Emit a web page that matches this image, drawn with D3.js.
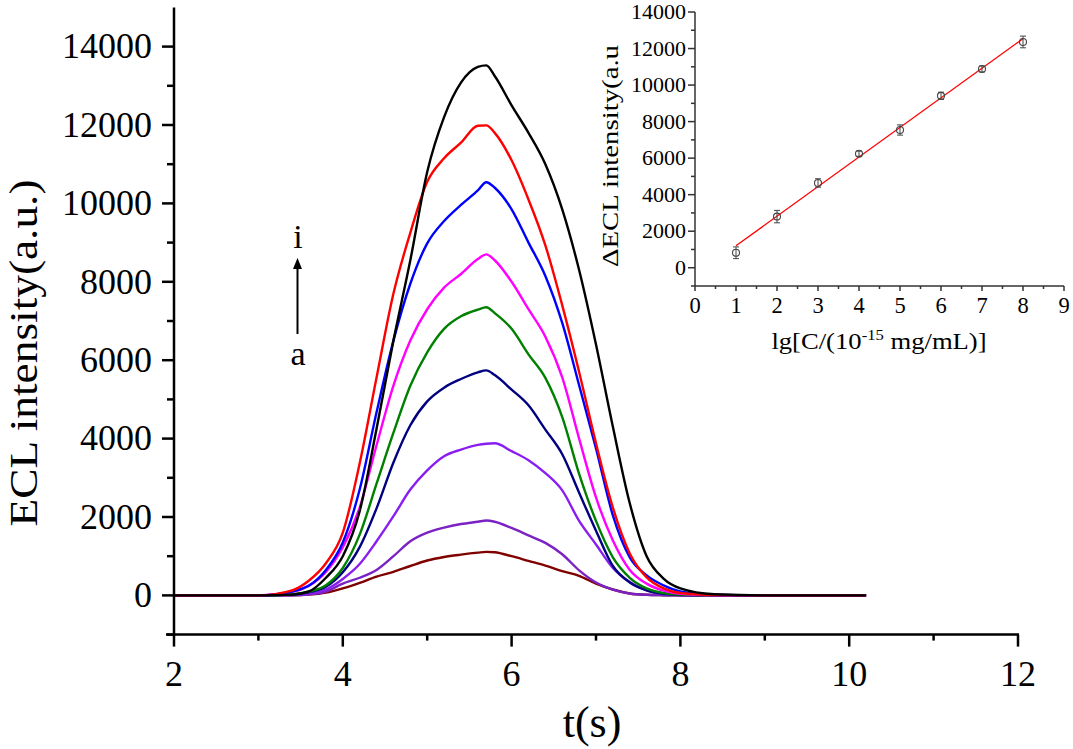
<!DOCTYPE html>
<html><head><meta charset="utf-8">
<script src="https://cdn.jsdelivr.net/npm/d3@7"></script>
<style>
html,body{margin:0;padding:0;background:#fff;}
svg{display:block;font-family:"Liberation Serif","Times New Roman",serif;}
</style></head>
<body><svg id="chart" width="1073" height="749"></svg>
<script>
// ---- main chart data ----
const tValues = [2, 3, 3.4, 3.6, 3.8, 4.0, 4.2, 4.4, 4.6, 4.8, 5.0, 5.2, 5.4, 5.6, 5.7, 5.8, 6.0, 6.2, 6.4, 6.6, 6.8, 7.0, 7.2, 7.4, 7.6, 7.8, 8.0, 8.4, 9.0, 10.2];
const seriesNames = ["a","b","c","d","e","f","g","h","i"];
const seriesColors = ["#800000","#7B22C4","#8A1EF2","#000080","#008000","#FF00FF","#0000FF","#FF0000","#000000"];
const curveA = [0,0,5,20,70,180,320,480,600,750,890,980,1040,1090,1110,1100,1000,880,760,620,500,300,150,50,15,5,0,0,0,0];
const curveB = [0,0,5,30,100,300,450,650,1000,1380,1600,1730,1820,1880,1910,1880,1720,1530,1340,1050,640,330,150,50,15,5,0,0,0,0];
const curveC = [0,0,10,40,150,420,800,1380,2020,2700,3190,3550,3720,3840,3870,3880,3680,3450,3120,2680,1900,1300,700,340,130,40,10,0,0,0];
const curveD = [0,0,20,80,220,590,1230,2220,3390,4340,4950,5300,5520,5690,5740,5620,5250,4850,4230,3600,2620,1650,750,330,130,40,10,0,0,0];
const curveE = [0,0,30,100,260,700,1550,2850,4150,5350,6200,6800,7120,7290,7350,7200,6800,6150,5550,4550,3100,1900,970,450,180,60,20,0,0,0];
const curveF = [0,0,90,250,600,1230,2240,3830,5350,6500,7300,7850,8200,8580,8700,8550,8000,7300,6600,5560,4000,2500,1400,650,300,120,40,5,0,0];
const curveG = [0,0,100,250,650,1350,2700,4670,6500,7950,8980,9550,9960,10330,10540,10400,9850,9000,8150,6950,5360,3750,2040,970,510,255,100,10,0,0];
const curveH = [0,0,130,380,820,1600,3370,5560,7700,9250,10550,11150,11550,11980,11990,11800,11100,10100,8930,7400,5700,3880,2240,1070,460,180,60,10,0,0];
const curveI = [0,0,20,100,450,1000,2150,4250,6500,8550,10800,12200,13080,13480,13520,13250,12500,11800,11000,9850,8300,6400,4300,2350,1000,430,180,30,0,0];
const allCurves = [curveA,curveB,curveC,curveD,curveE,curveF,curveG,curveH,curveI];
const mainXTicks = [2,4,6,8,10,12];
const mainXMinor = [3,5,7,9,11];
const mainYTicks = [0,2000,4000,6000,8000,10000,12000,14000];
const mainYMinor = [-1000,1000,3000,5000,7000,9000,11000,13000];

// ---- inset data ----
const insetX = [1,2,3,4,5,6,7,8];
const insetY = [820,2800,4640,6240,7540,9410,10880,12360];
const insetErr = [320,340,230,140,280,200,160,320];
const fitX = [1,8];
const fitY = [1200,12540];
const insetXTicks = [0,1,2,3,4,5,6,7,8,9];
const insetXMinor = [0.5,1.5,2.5,3.5,4.5,5.5,6.5,7.5,8.5];
const insetYTicks = [0,2000,4000,6000,8000,10000,12000,14000];
const insetYMinor = [-1000,1000,3000,5000,7000,9000,11000,13000];

const svg = d3.select("#chart");

// ===== main chart =====
const x = d3.scaleLinear().domain([2,12]).range([174,1018]);
const y = d3.scaleLinear().domain([-1000,15000]).range([634.6,7.4]);
const mainAxisW = 2.5;

const line = d3.line().x(d=>x(d[0])).y(d=>y(d[1])).curve(d3.curveMonotoneX);
const gCurves = svg.append("g");
allCurves.forEach((vals,k)=>{
  gCurves.append("path")
    .attr("d", line(tValues.map((t,j)=>[t, vals[j]])))
    .attr("fill","none").attr("stroke",seriesColors[k])
    .attr("stroke-width",2.4).attr("stroke-linejoin","round");
});

// axes
const gAx = svg.append("g").attr("stroke","#000").attr("stroke-width",mainAxisW);
gAx.append("line").attr("x1",x(2)).attr("x2",x(2)).attr("y1",y(15000)).attr("y2",y(-1000)+1);
gAx.append("line").attr("x1",x(2)-8).attr("x2",x(12)+1).attr("y1",y(-1000)).attr("y2",y(-1000));
mainYTicks.forEach(v=>gAx.append("line").attr("x1",x(2)-12).attr("x2",x(2)).attr("y1",y(v)).attr("y2",y(v)));
mainYMinor.forEach(v=>gAx.append("line").attr("x1",x(2)-7).attr("x2",x(2)).attr("y1",y(v)).attr("y2",y(v)));
mainXTicks.forEach(v=>gAx.append("line").attr("x1",x(v)).attr("x2",x(v)).attr("y1",y(-1000)).attr("y2",y(-1000)+12));
mainXMinor.forEach(v=>gAx.append("line").attr("x1",x(v)).attr("x2",x(v)).attr("y1",y(-1000)).attr("y2",y(-1000)+6));

const gLab = svg.append("g").attr("fill","#000");
mainYTicks.forEach(v=>gLab.append("text").attr("x",152).attr("y",y(v)).attr("dy","0.33em")
  .attr("text-anchor","end").attr("font-size",36).text(v));
mainXTicks.forEach(v=>gLab.append("text").attr("x",x(v)).attr("y",686)
  .attr("text-anchor","middle").attr("font-size",36).text(v));
gLab.append("text").attr("x",592).attr("y",737).attr("text-anchor","middle").attr("font-size",44).text("t(s)");
gLab.append("text").attr("transform","translate(37,353) rotate(-90)").attr("text-anchor","middle")
  .attr("font-size",41).attr("textLength",347).attr("lengthAdjust","spacingAndGlyphs").text("ECL intensity(a.u.)");

// arrow a -> i
gLab.append("text").attr("x",298).attr("y",248).attr("text-anchor","middle").attr("font-size",34).text("i");
gLab.append("text").attr("x",298).attr("y",365).attr("text-anchor","middle").attr("font-size",34).text("a");
svg.append("line").attr("x1",297.5).attr("x2",297.5).attr("y1",334).attr("y2",266).attr("stroke","#000").attr("stroke-width",2);
svg.append("path").attr("d","M297.5,258 L293,269 L302,269 Z").attr("fill","#000");

// ===== inset =====
const ix = d3.scaleLinear().domain([0,9]).range([695,1064]);
const iy = d3.scaleLinear().domain([-1000,14000]).range([286,12]);
const gI = svg.append("g");
const axCol = "#333";
const gIA = gI.append("g").attr("stroke",axCol).attr("stroke-width",1.5);
gIA.append("line").attr("x1",ix(0)).attr("x2",ix(0)).attr("y1",iy(14000)).attr("y2",iy(-1000));
gIA.append("line").attr("x1",ix(0)).attr("x2",ix(9)).attr("y1",iy(-1000)).attr("y2",iy(-1000));
insetYTicks.forEach(v=>gIA.append("line").attr("x1",ix(0)-7).attr("x2",ix(0)).attr("y1",iy(v)).attr("y2",iy(v)));
insetYMinor.forEach(v=>gIA.append("line").attr("x1",ix(0)-4).attr("x2",ix(0)).attr("y1",iy(v)).attr("y2",iy(v)));
insetXTicks.forEach(v=>gIA.append("line").attr("x1",ix(v)).attr("x2",ix(v)).attr("y1",iy(-1000)).attr("y2",iy(-1000)+5));
insetXMinor.forEach(v=>gIA.append("line").attr("x1",ix(v)).attr("x2",ix(v)).attr("y1",iy(-1000)).attr("y2",iy(-1000)+3));

insetYTicks.forEach(v=>gI.append("text").attr("x",686).attr("y",iy(v)).attr("dy","0.33em")
  .attr("text-anchor","end").attr("font-size",22).text(v));
insetXTicks.forEach(v=>gI.append("text").attr("x",ix(v)).attr("y",313)
  .attr("text-anchor","middle").attr("font-size",22.5).text(v));

// fit line
gI.append("line").attr("x1",ix(fitX[0])).attr("y1",iy(fitY[0])).attr("x2",ix(fitX[1])).attr("y2",iy(fitY[1]))
  .attr("stroke","#FF0000").attr("stroke-width",1.3);
// error bars & points
insetX.forEach((xv,k)=>{
  const yv = insetY[k], e = insetErr[k];
  const g = gI.append("g").attr("stroke","#444").attr("stroke-width",1);
  g.append("line").attr("x1",ix(xv)).attr("x2",ix(xv)).attr("y1",iy(yv-e)).attr("y2",iy(yv+e));
  g.append("line").attr("x1",ix(xv)-3).attr("x2",ix(xv)+3).attr("y1",iy(yv-e)).attr("y2",iy(yv-e));
  g.append("line").attr("x1",ix(xv)-3).attr("x2",ix(xv)+3).attr("y1",iy(yv+e)).attr("y2",iy(yv+e));
  g.append("circle").attr("cx",ix(xv)).attr("cy",iy(yv)).attr("r",3.5).attr("fill","none").attr("stroke-width",1.1);
});

// inset titles
const xt = gI.append("text").attr("transform","translate(879,349) scale(1.11,1)")
  .attr("text-anchor","middle").attr("font-size",24);
xt.append("tspan").text("lg[C/(10");
xt.append("tspan").attr("dy",-9).attr("font-size",15).text("-15");
xt.append("tspan").attr("dy",9).text(" mg/mL)]");
gI.append("text").attr("transform","translate(618,156) rotate(-90)").attr("text-anchor","middle")
  .attr("font-size",23).attr("textLength",222).attr("lengthAdjust","spacingAndGlyphs").text("\u0394ECL intensity(a.u");
</script></body></html>
